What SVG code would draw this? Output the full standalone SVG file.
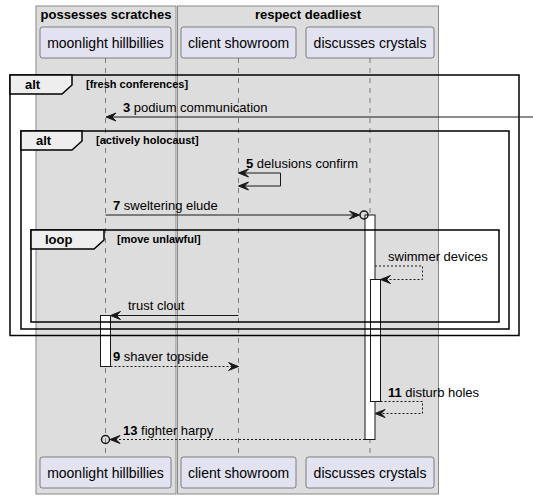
<svg xmlns="http://www.w3.org/2000/svg" width="533" height="498" viewBox="0 0 533 498">
<style>
text{font-family:"Liberation Sans",Arial,sans-serif;fill:#000}
.box{fill:#DDDDDD;stroke:#888888;stroke-width:1}
.btitle{font-size:13px;font-weight:bold;text-anchor:middle}
.part{fill:#E2E2F0;stroke:#181818;stroke-width:0.5}
.pname{font-size:14px;text-anchor:middle}
.life{stroke:#181818;stroke-width:0.5;stroke-dasharray:5,5;fill:none}
.frame{fill:none;stroke:#000;stroke-width:1.5}
.tab{fill:#EEEEEE;stroke:#000;stroke-width:1.5}
.fl{font-size:13px;font-weight:bold}
.fc{font-size:11px;font-weight:bold}
.msg{stroke:#181818;stroke-width:1;fill:none}
.ret{stroke:#181818;stroke-width:1;fill:none;stroke-dasharray:2,2}
.ah{fill:#181818;stroke:#181818;stroke-width:1}
.mt{font-size:13px}
.act{fill:#FFFFFF;stroke:#181818;stroke-width:1}
.circ{fill:none;stroke:#181818;stroke-width:1.5}
</style>
<g id="box-possesses-scratches">
<rect class="box" x="36" y="6" width="140" height="488"/>
<text class="btitle" x="106" y="19">possesses scratches</text>
</g>
<g id="box-respect-deadliest">
<rect class="box" x="177.5" y="6" width="261" height="488"/>
<text class="btitle" x="308" y="19">respect deadliest</text>
</g>
<g id="lifelines">
<line class="life" x1="105.5" y1="58" x2="105.5" y2="457"/>
<line class="life" x1="238.5" y1="58" x2="238.5" y2="457"/>
<line class="life" x1="370" y1="58" x2="370" y2="457"/>
</g>
<g id="moonlight-hillbillies">
<rect class="part" x="40" y="27" width="131" height="31" rx="2.5"/>
<text class="pname" x="105.5" y="47.5">moonlight hillbillies</text>
<rect class="part" x="40" y="457" width="131" height="31" rx="2.5"/>
<text class="pname" x="105.5" y="477.5">moonlight hillbillies</text>
</g>
<g id="client-showroom">
<rect class="part" x="181" y="27" width="115" height="31" rx="2.5"/>
<text class="pname" x="238.5" y="47.5">client showroom</text>
<rect class="part" x="181" y="457" width="115" height="31" rx="2.5"/>
<text class="pname" x="238.5" y="477.5">client showroom</text>
</g>
<g id="discusses-crystals">
<rect class="part" x="306" y="27" width="128" height="31" rx="2.5"/>
<text class="pname" x="370" y="47.5">discusses crystals</text>
<rect class="part" x="306" y="457" width="128" height="31" rx="2.5"/>
<text class="pname" x="370" y="477.5">discusses crystals</text>
</g>
<g id="activations">
<rect class="act" x="365" y="215" width="10" height="224.5"/>
<rect class="act" x="370.5" y="279.5" width="10" height="122"/>
<rect class="act" x="100.5" y="315.5" width="10" height="51"/>
</g>
<g id="frame-alt-outer">
<rect class="frame" x="10" y="75" width="509" height="260.5"/>
<path class="tab" d="M10,75 H72 V85 L62,94 H10 Z"/>
<text class="fl" x="25" y="89">alt</text>
<text class="fc" x="86" y="88">[fresh conferences]</text>
</g>
<g id="frame-alt-inner">
<rect class="frame" x="21" y="131" width="488" height="198"/>
<path class="tab" d="M21,131 H82 V141 L72,150 H21 Z"/>
<text class="fl" x="36" y="145">alt</text>
<text class="fc" x="96" y="144">[actively holocaust]</text>
</g>
<g id="frame-loop">
<rect class="frame" x="31" y="230" width="468" height="92"/>
<path class="tab" d="M31,230 H104 V240 L94,249 H31 Z"/>
<text class="fl" x="45" y="244">loop</text>
<text class="fc" x="117" y="243">[move unlawful]</text>
</g>
<g id="connectors">
<!-- 3 podium communication -->
<line class="msg" x1="533" y1="117" x2="107" y2="117"/>
<polygon class="ah" points="106,117 116,113 112,117 116,121"/>
<text class="mt" x="123" y="112"><tspan font-weight="bold">3</tspan> podium communication</text>
<!-- 5 delusions confirm -->
<polyline class="msg" points="239.5,173 280.5,173 280.5,186 239.5,186"/>
<polygon class="ah" points="238.5,173 248.5,169 244.5,173 248.5,177"/>
<polygon class="ah" points="238.5,186 248.5,182 244.5,186 248.5,190"/>
<text class="mt" x="246" y="168"><tspan font-weight="bold">5</tspan> delusions confirm</text>
<!-- 7 sweltering elude -->
<line class="msg" x1="105.5" y1="215" x2="358" y2="215"/>
<polygon class="ah" points="359.5,215 349.5,211 353.5,215 349.5,219"/>
<circle class="circ" cx="364" cy="215" r="4"/>
<text class="mt" x="113" y="210"><tspan font-weight="bold">7</tspan> sweltering elude</text>
<!-- swimmer devices -->
<polyline class="ret" points="375,266 422.5,266 422.5,279.5 382,279.5"/>
<polygon class="ah" points="380.5,279.5 390.5,275.5 386.5,279.5 390.5,283.5"/>
<text class="mt" x="388" y="261">swimmer devices</text>
<!-- trust clout -->
<line class="msg" x1="238.5" y1="315.5" x2="112" y2="315.5"/>
<polygon class="ah" points="110.5,315.5 120.5,311.5 116.5,315.5 120.5,319.5"/>
<text class="mt" x="128" y="310">trust clout</text>
<!-- 9 shaver topside -->
<line class="ret" x1="110.5" y1="366.5" x2="237" y2="366.5"/>
<polygon class="ah" points="238.5,366.5 228.5,362.5 232.5,366.5 228.5,370.5"/>
<text class="mt" x="113" y="361"><tspan font-weight="bold">9</tspan> shaver topside</text>
<!-- 11 disturb holes -->
<polyline class="ret" points="380.5,401.5 422.5,401.5 422.5,413.5 377,413.5"/>
<polygon class="ah" points="375,413.5 385,409.5 381,413.5 385,417.5"/>
<text class="mt" x="388" y="396.5"><tspan font-weight="bold">11</tspan> disturb holes</text>
<!-- 13 fighter harpy -->
<line class="ret" x1="365" y1="439.5" x2="112" y2="439.5"/>
<polygon class="ah" points="110,439.5 120,435.5 116,439.5 120,443.5"/>
<circle class="circ" cx="105.5" cy="439.5" r="4"/>
<text class="mt" x="123" y="434.5"><tspan font-weight="bold">13</tspan> fighter harpy</text>
</g>
</svg>
